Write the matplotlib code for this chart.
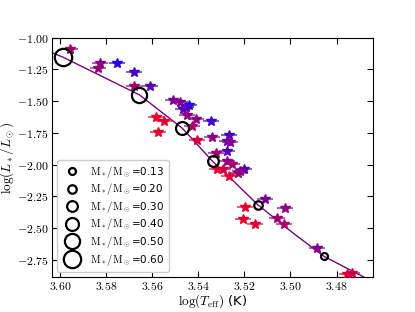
import numpy as np
import matplotlib
matplotlib.use("Agg")
import matplotlib.pyplot as plt
from matplotlib.colors import LinearSegmentedColormap
from matplotlib.ticker import FuncFormatter, MultipleLocator

plt.rcParams["mathtext.fontset"] = "cm"

# observed stars: log Teff, log L/Lsun, colour value (0 = red, 1 = blue)
star_teff = [3.5957, 3.5826, 3.5836, 3.5754, 3.5679, 3.5678, 3.5611, 3.5511,
             3.5479, 3.5453, 3.5440, 3.5468, 3.5450, 3.5411, 3.5427, 3.5585,
             3.5549, 3.5575, 3.5344, 3.5404, 3.5342, 3.5268, 3.5277, 3.5262,
             3.5275, 3.5325, 3.5275, 3.5252, 3.5202, 3.5219, 3.5228, 3.5319,
             3.5294, 3.5265, 3.5111, 3.5197, 3.5023, 3.5206, 3.5155, 3.5060,
             3.5030, 3.4884, 3.4756, 3.4733]
star_lum = [-1.089, -1.197, -1.236, -1.197, -1.268, -1.380, -1.380, -1.493,
            -1.509, -1.543, -1.532, -1.564, -1.606, -1.642, -1.695, -1.627,
            -1.656, -1.740, -1.656, -1.808, -1.782, -1.764, -1.811, -1.819,
            -1.892, -1.910, -1.973, -1.992, -2.036, -2.052, -2.065, -2.031,
            -2.036, -2.091, -2.267, -2.330, -2.341, -2.427, -2.464, -2.417,
            -2.466, -2.658, -2.860, -2.850]
star_teff_err = 0.0035
color_value = [0.35, 0.45, 0.40, 1.00, 0.80, 0.35, 0.70, 0.55,
               0.50, 0.85, 0.90, 0.70, 0.45, 0.45, 0.30, 0.00,
               0.05, 0.02, 0.85, 0.10, 0.45, 0.80, 0.65, 0.50,
               0.75, 0.40, 0.45, 0.35, 0.75, 0.50, 0.40, 0.05,
               0.12, 0.05, 0.55, 0.02, 0.45, 0.02, 0.05, 0.40,
               0.30, 0.50, 0.05, 0.15]

# isochrone track
track_teff = [3.6060, 3.5986, 3.5656, 3.5469, 3.5338, 3.5252, 3.5142, 3.4988,
              3.4855, 3.4660]
track_lum = [-1.098, -1.154, -1.449, -1.713, -1.973, -2.120, -2.315, -2.539,
             -2.721, -2.905]

# mass points on the track
mass = [0.13, 0.20, 0.30, 0.40, 0.50, 0.60]
mass_teff = [3.4855, 3.5142, 3.5338, 3.5469, 3.5656, 3.5986]
mass_lum = [-2.721, -2.315, -1.973, -1.713, -1.449, -1.154]

cmap = LinearSegmentedColormap.from_list("rb", [(0.93, 0.0, 0.16), (0.12, 0.0, 0.95)])

fig = plt.figure(figsize=(4.15, 3.12), dpi=100)
ax = fig.add_axes([0.1246, 0.1122, 0.7742, 0.7668])

ax.plot(track_teff, track_lum, color="purple", lw=1.0, zorder=2)

for t, l, c in zip(star_teff, star_lum, color_value):
    col = cmap(c)
    ax.errorbar(t, l, xerr=star_teff_err, fmt="none", ecolor=col,
                elinewidth=1.3, alpha=0.7, zorder=3)
    ax.plot(t, l, marker="*", ms=7.5, color=col, mec=col, ls="none", zorder=4)

for m, t, l in zip(mass, mass_teff, mass_lum):
    ax.plot(t, l, marker="o", ms=5 + (m - 0.13) / 0.47 * 7.5, mfc="none",
            mec="black", mew=1.6, ls="none", zorder=5,
            label=r"$\mathrm{M_*/M_\odot}$=%.2f" % m)

ax.set_xlim(3.6036, 3.4642)
ax.set_ylim(-2.884, -1.0)
ax.xaxis.set_major_locator(MultipleLocator(0.02))
ax.yaxis.set_major_locator(MultipleLocator(0.25))
fmt = FuncFormatter(lambda v, p: "$%.2f$" % v)
ax.xaxis.set_major_formatter(fmt)
ax.yaxis.set_major_formatter(fmt)
ax.tick_params(direction="in", top=True, right=True, length=4, labelsize=8.5,
               pad=2)

ax.set_xlabel(r"$\log(T_{\rm eff})$ (K)", fontsize=9.5)
ax.set_ylabel(r"$\log(L_*/L_\odot)$", fontsize=9.5)
ax.xaxis.set_label_coords(0.5, -0.064)
ax.yaxis.set_label_coords(-0.110, 0.5)

ax.legend(loc="lower left", fontsize=7.5, labelspacing=0.15, framealpha=1.0)

fig.savefig("out.png", dpi=100)
